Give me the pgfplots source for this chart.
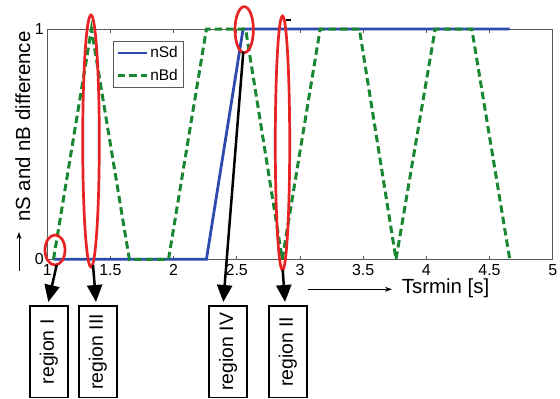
\documentclass[border=0pt]{standalone}
\usepackage{fontspec}
\setmainfont{Liberation Sans}
\usepackage{pgfplots}
\pgfplotsset{compat=1.18}
\usetikzlibrary{arrows.meta}
\definecolor{mblue}{RGB}{45,75,175}
\definecolor{mgreen}{RGB}{25,135,50}
\definecolor{mred}{RGB}{232,35,35}
\begin{document}
\begin{tikzpicture}
\useasboundingbox (0bp,0bp) rectangle (560bp,-399bp);
\begin{axis}[
  at={(47.2bp,-29bp)}, anchor=north west,
  scale only axis, width=505.5bp, height=230.3bp,
  xmin=1, xmax=5, ymin=0, ymax=1,
  xtick={1,1.5,2,2.5,3,3.5,4,4.5,5},
  xticklabels={1,1.5,2,2.5,3,3.5,4,4.5,5},
  ytick={0,1}, yticklabels={0,1},
  tick align=inside, major tick length=3.5bp,
  axis line style={draw=black!65, line width=0.8bp},
  every tick/.style={draw=black!65, line width=0.8bp},
  tick label style={font=\fontsize{16}{18}\selectfont, text=black},
  xticklabel style={yshift=-2bp},
  clip=false,
  legend cell align=left,
  legend style={at={(0.1296,0.949)}, anchor=north west,
    draw=black!65, line width=0.7bp, inner xsep=2.95bp, inner ysep=0.6bp,
    font=\fontsize{15.5}{18}\selectfont,
    nodes={inner xsep=2.35bp, inner ysep=4.35bp, text height=11.5bp, text depth=2.5bp},
    row sep=0pt, column sep=0pt},
  legend image code/.code={\draw[#1] (0bp,0bp) -- (29bp,0bp);},
]
\addplot[mblue, line width=2.8bp] coordinates {(1.05,0) (2.26,0) (2.55,1) (4.66,1)};
\addlegendentry{nSd}
\addplot[mgreen, line width=3bp, dash pattern=on 7.5bp off 4bp] coordinates {
  (1.05,0) (1.35,1) (1.65,0) (1.96,0) (2.26,1) (2.57,1) (2.86,0)
  (3.16,1) (3.47,1) (3.76,0) (4.07,1) (4.36,1) (4.66,0)};
\addlegendentry{nBd}
\end{axis}
\begin{scope}[x=1bp,y=-1bp]
  % red ellipses
  \tikzset{rell/.style={mred, line width=2.7bp}}
  \draw[rell] (55,250) ellipse [x radius=10, y radius=15];
  \draw[rell] (91,141) ellipse [x radius=8.3, y radius=126];
  \draw[rell] (244.2,29.7) ellipse [x radius=9.2, y radius=23];
  \draw[rell] (282.5,143) ellipse [x radius=7.2, y radius=127];
  % small dash
  \draw[line width=1.8bp] (286,19.8) -- (291,19.8);
  % arrows
  \tikzset{bigarr/.style={line width=2.5bp, -{Triangle[width=15bp,length=17bp]}}}
  \draw[bigarr] (56.7,265) -- (48.3,302);
  \draw[bigarr] (93,265) -- (96,302);
  \draw[bigarr] (243.3,51.7) -- (223.3,302);
  \draw[bigarr] (282.7,270) -- (285,302);
  % boxes
  \tikzset{rbox/.style={line width=1.8bp}}
  \tikzset{rtext/.style={rotate=90, font=\fontsize{19.5}{22}\selectfont}}
  \draw[rbox] (30,306) rectangle (67.7,397.5);
  \node[rtext] at (48.9,351.8) {region I};
  \draw[rbox] (79,306) rectangle (116.7,397.5);
  \node[rtext] at (97.9,351.8) {region III};
  \draw[rbox] (209.3,306) rectangle (246.7,397.5);
  \node[rtext] at (228,351.8) {region IV};
  \draw[rbox] (269,306) rectangle (306.7,397.5);
  \node[rtext] at (287.9,351.8) {region II};
  % axis labels
  \node[rotate=90, anchor=base, inner sep=0pt, font=\fontsize{20.5}{24}\selectfont] at (30,126.7) {nS and nB difference};
  \draw[line width=0.9bp, -{Stealth[length=7bp,width=5bp]}] (19,271) -- (19,232);
  \draw[line width=0.9bp, -{Stealth[length=7bp,width=5bp]}] (308,289.3) -- (392,289.3);
  \node[anchor=base west, inner sep=0pt, font=\fontsize{20.5}{24}\selectfont] at (401.7,293.3) {Tsrmin [s]};
\end{scope}
\end{tikzpicture}
\end{document}
